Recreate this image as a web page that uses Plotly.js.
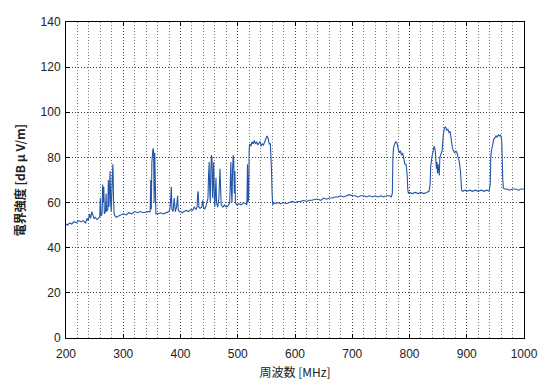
<!DOCTYPE html>
<html>
<head>
<meta charset="utf-8">
<script src="https://cdn.plot.ly/plotly-3.0.1.min.js"></script>
<style>html,body{margin:0;padding:0;background:#fff;}#chart{width:540px;height:381px;}</style>
</head>
<body>
<div id="chart"></div>
<script>
// Frequency [MHz]
const freq = [
200,203,206,210,214,218,222,226,230,234,237,239,241,243,245,247,249,251,254,257,
259,260,261,263,264,265,266,267,269,270,271,273,274,275,277,278,279,281,282,283,284,286,288,
292,296,300,305,310,315,320,325,330,335,340,343,
345,347,348,349,350,351,352,353,354,355,356,357,
360,365,370,375,378,
380,382,383,384,385,387,389,390,391,393,395,396,398,
400,403,406,410,414,418,421,424,427,429,430,431,432,434,437,439,440,442,444,446,448,449,450,451,452,453,454,455,456,457,458,459,460,462,463,465,467,469,470,471,474,477,480,483,486,487,488,489,490,491,492,493,494,495,496,498,502,506,510,514,516,
517,518,519,520,521,523,525,527,529,531,533,535,537,539,541,543,545,547,549,551,553,555,557,558,559,560,561,563,
566,570,575,580,585,590,595,600,605,610,615,620,625,630,635,640,645,650,655,660,665,670,675,680,685,690,695,700,705,710,715,720,725,730,735,740,745,750,755,760,765,768,
769,770,771,772,774,776,778,780,782,784,786,788,790,792,794,796,797,798,800,805,810,815,820,825,830,834,836,837,839,841,843,845,846,847,848,849,850,852,853,855,857,859,861,863,865,867,869,871,873,875,877,879,881,883,885,887,889,890,891,893,897,900,905,910,915,920,925,930,935,939,941,942,943,945,947,949,951,953,955,957,959,961,962,963,964,966,970,975,980,985,990,995,1000
];
// Field strength [dB uV/m]
const level = [
50.5,50,51,50.5,51.5,51,52,51.5,52,51,53,52,55,53,56,54,53,53.5,52.5,53,
54,62,54,55,68,60,67,55,56,64,56,57,70,58,74,60,56,72,77,62,55,54,53.5,
54,54.5,55,54.5,55.5,55,56,55.5,56,55.5,56,56,
56,56,70,57,78,80,84,83,60,82,56,55,
55,55.5,55,55.5,56,
56,58,66,67,57,56,62,60,56,58,63,57,56,
56,55.5,56,56.5,56,57,56.5,58,57,58,64,65,58,57.5,58,61,58,57,58,60,62,72,78,66,60,74,81,80,62,68,78,63,58,71,60,58,62,75,68,59,58,59,58,58.5,60,70,78,65,60,75,81,79,64,74,60,59,59.5,59,60,59.5,59,
77,60,62,84,86,85,87,86,87.5,86,87,85.5,86.5,87,85,86,85.5,87,88,89.5,88.5,86,86,82,74,64,59,60,
59.5,60,59.5,60,59.5,60,60.5,60,60.5,60.5,61,60.5,61,61,61.5,61.5,61,62,61.5,62,62,62.5,62.5,63,62.5,63,63.5,63,63,62.5,63,63,62.5,63,62.5,63,62.5,63,62.5,63,63,62.5,
63,64,80,84,86,87,86.5,84,82,83,81,82,79,77,77,72,66,64,64.5,64,64.5,64,64.5,64,64.5,65,68,76,80,82,85,83,80,75,78,73,77,72,80,82,83,90,93,93.5,92,92.5,91,91.5,88,84,83,82,83,82,80,78,74,70,65.5,65,65.5,65,65.5,65,65.5,65,65.5,65,65.5,65,68,80,83,85,88,88.5,89.5,89,90,89.5,90,88,75,70,66.5,66,66,65.5,66,66,65.5,66,66
];
const xTicks = [200,300,400,500,600,700,800,900,1000];
const yTicks = [0,20,40,60,80,100,120,140];

const trace = {
  x: freq, y: level, type: 'scatter', mode: 'lines',
  line: {color: '#2456a8', width: 1.1}, hoverinfo: 'skip'
};

const gridCol = '#444';
const layout = {
  width: 540, height: 381,
  margin: {l: 66, r: 16, t: 22, b: 43},
  paper_bgcolor: '#fff', plot_bgcolor: '#fff',
  showlegend: false,
  font: {family: 'Liberation Sans, Arial, sans-serif', size: 12, color: '#222'},
  xaxis: {
    range: [200, 1000], tickvals: xTicks, ticktext: xTicks.map(String),
    ticks: 'inside', ticklen: 4, tickcolor: '#000', ticklabelstandoff: 5,
    showline: true, linecolor: '#000', linewidth: 1, mirror: 'ticks',
    showgrid: true, gridcolor: gridCol, griddash: '1px,2px', gridwidth: 1,
    minor: {dtick: 20, showgrid: true, gridcolor: '#777', griddash: '1px,2px', gridwidth: 1, ticks: ''},
    zeroline: false, fixedrange: true,
    title: {text: '周波数 [MHz]', font: {family: 'Noto Sans CJK JP, sans-serif', size: 12, color: '#222'}, standoff: 8}
  },
  yaxis: {
    range: [0, 140], tickvals: yTicks, ticktext: yTicks.map(String),
    ticks: 'inside', ticklen: 4, tickcolor: '#000', ticklabelstandoff: 2,
    showline: true, linecolor: '#000', linewidth: 1, mirror: 'ticks',
    showgrid: true, gridcolor: gridCol, griddash: '1px,2px', gridwidth: 1,
    zeroline: false, fixedrange: true,
    title: {text: '<b>電界強度 [dB μ V/m]</b>', font: {family: 'Noto Sans CJK JP, sans-serif', size: 12, color: '#222'}, standoff: 12}
  }
};

Plotly.newPlot('chart', [trace], layout, {staticPlot: true, displayModeBar: false});
</script>
</body>
</html>
